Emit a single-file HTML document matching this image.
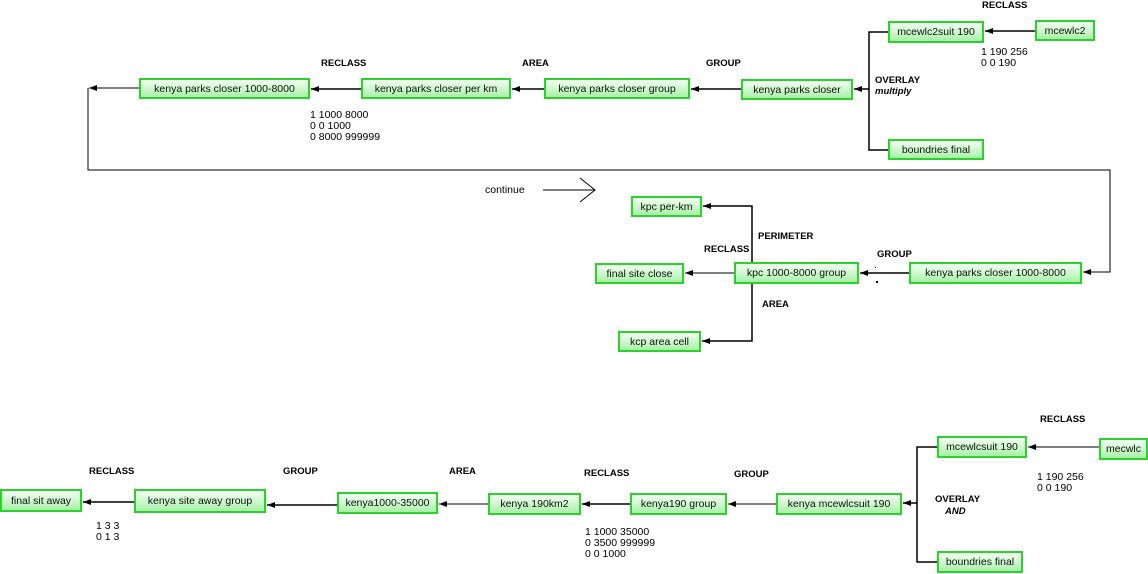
<!DOCTYPE html>
<html><head><meta charset="utf-8"><style>
body{margin:0;width:1148px;height:574px;background:#fff;position:relative;overflow:hidden;font-family:"Liberation Sans",Arial,sans-serif;}
.b{position:absolute;box-sizing:border-box;border:2px solid #2bd22b;background:linear-gradient(#f4fff4,#a8f0a8);font-size:10.5px;color:#111;display:flex;align-items:center;justify-content:center;white-space:nowrap;}
.l{position:absolute;font-size:9.5px;font-weight:bold;color:#000;white-space:nowrap;}
.n{position:absolute;font-size:10.5px;line-height:11px;color:#000;white-space:nowrap;}
svg{position:absolute;left:0;top:0;}
</style></head><body>
<svg width="1148" height="574">
<defs><marker id="a" markerUnits="userSpaceOnUse" markerWidth="8" markerHeight="6" refX="8" refY="3" orient="auto"><path d="M0,0 L8,3 L0,6 z" fill="#000"/></marker></defs>
<g stroke="#000" stroke-width="1.5" fill="none">
<path d="M1035 31 H985" marker-end="url(#a)"/>
<path d="M888 32 H869 V150 H888"/>
<path d="M869 89 H854" marker-end="url(#a)"/>
<path d="M741 89 H691" marker-end="url(#a)"/>
<path d="M544 89 H512" marker-end="url(#a)"/>
<path d="M361 89 H311" marker-end="url(#a)"/>
<path d="M139 88 H89" stroke-width="1" marker-end="url(#a)"/>
<path d="M88 88 V170 H1110 V272 H1083" stroke-width="1" marker-end="url(#a)"/>
<path d="M543 190 H595 M580 178 L595 190 L580 202" stroke-width="1"/>
<path d="M909 273 H860" marker-end="url(#a)"/>
<path d="M734 273 H685" stroke-width="1" marker-end="url(#a)"/>
<path d="M752 263 V206 H703" marker-end="url(#a)"/>
<path d="M752 283 V341 H702" marker-end="url(#a)"/>
<path d="M1099 447 H1028" stroke-width="1" marker-end="url(#a)"/>
<path d="M937 447 H917 V562 H937"/>
<path d="M917 503 H903" marker-end="url(#a)"/>
<path d="M776 504 H728" stroke-width="1" marker-end="url(#a)"/>
<path d="M630 504 H582" marker-end="url(#a)"/>
<path d="M488 504 H439" stroke-width="1" marker-end="url(#a)"/>
<path d="M337 505 H267" marker-end="url(#a)"/>
<path d="M134 502 H83" marker-end="url(#a)"/>
</g>
<rect x="875" y="267" width="1" height="1" fill="#000"/><rect x="876" y="281" width="2" height="2" fill="#000"/>
</svg>
<div class="b" style="left:139px;top:78px;width:171px;height:21px">kenya parks closer 1000-8000</div>
<div class="b" style="left:361px;top:78px;width:150px;height:21px">kenya parks closer per km</div>
<div class="b" style="left:544px;top:78px;width:146px;height:21px">kenya parks closer group</div>
<div class="b" style="left:741px;top:79px;width:112px;height:21px">kenya parks closer</div>
<div class="b" style="left:888px;top:21px;width:96px;height:22px">mcewlc2suit 190</div>
<div class="b" style="left:1035px;top:20px;width:60px;height:21px">mcewlc2</div>
<div class="b" style="left:888px;top:139px;width:96px;height:21px">boundries final</div>
<div class="l" style="left:982px;top:0px">RECLASS</div>
<div class="l" style="left:875px;top:75px">OVERLAY</div>
<div class="l" style="left:875px;top:86px;font-style:italic">multiply</div>
<div class="l" style="left:706px;top:58px">GROUP</div>
<div class="l" style="left:522px;top:58px">AREA</div>
<div class="l" style="left:321px;top:58px">RECLASS</div>
<div class="n" style="left:310px;top:110px">1 1000 8000<br>0 0 1000<br>0 8000 999999</div>
<div class="n" style="left:981px;top:47px">1 190 256<br>0 0 190</div>
<div class="n" style="left:485px;top:185px">continue</div>
<div class="b" style="left:909px;top:262px;width:173px;height:22px">kenya parks closer 1000-8000</div>
<div class="b" style="left:734px;top:262px;width:125px;height:22px">kpc 1000-8000 group</div>
<div class="b" style="left:595px;top:263px;width:89px;height:21px">final site close</div>
<div class="b" style="left:631px;top:196px;width:71px;height:21px">kpc per-km</div>
<div class="b" style="left:618px;top:331px;width:83px;height:21px">kcp area cell</div>
<div class="l" style="left:877px;top:249px">GROUP</div>
<div class="l" style="left:704px;top:244px">RECLASS</div>
<div class="l" style="left:758px;top:231px">PERIMETER</div>
<div class="l" style="left:762px;top:299px">AREA</div>
<div class="b" style="left:1099px;top:438px;width:49px;height:22px">mecwlc</div>
<div class="b" style="left:937px;top:436px;width:90px;height:22px">mcewlcsuit 190</div>
<div class="b" style="left:937px;top:551px;width:86px;height:22px">boundries final</div>
<div class="b" style="left:776px;top:493px;width:126px;height:22px">kenya mcewlcsuit 190</div>
<div class="b" style="left:630px;top:493px;width:97px;height:22px">kenya190 group</div>
<div class="b" style="left:488px;top:493px;width:93px;height:22px">kenya 190km2</div>
<div class="b" style="left:337px;top:492px;width:101px;height:22px">kenya1000-35000</div>
<div class="b" style="left:134px;top:489px;width:132px;height:24px">kenya site away group</div>
<div class="b" style="left:0px;top:489px;width:82px;height:23px">final sit away</div>
<div class="l" style="left:1040px;top:414px">RECLASS</div>
<div class="n" style="left:1037px;top:472px">1 190 256<br>0 0 190</div>
<div class="l" style="left:935px;top:494px">OVERLAY</div>
<div class="l" style="left:945px;top:506px;font-style:italic">AND</div>
<div class="l" style="left:734px;top:469px">GROUP</div>
<div class="l" style="left:584px;top:468px">RECLASS</div>
<div class="n" style="left:585px;top:527px">1 1000 35000<br>0 3500 999999<br>0 0 1000</div>
<div class="l" style="left:449px;top:466px">AREA</div>
<div class="l" style="left:283px;top:466px">GROUP</div>
<div class="l" style="left:89px;top:466px">RECLASS</div>
<div class="n" style="left:96px;top:521px">1 3 3<br>0 1 3</div>
</body></html>
